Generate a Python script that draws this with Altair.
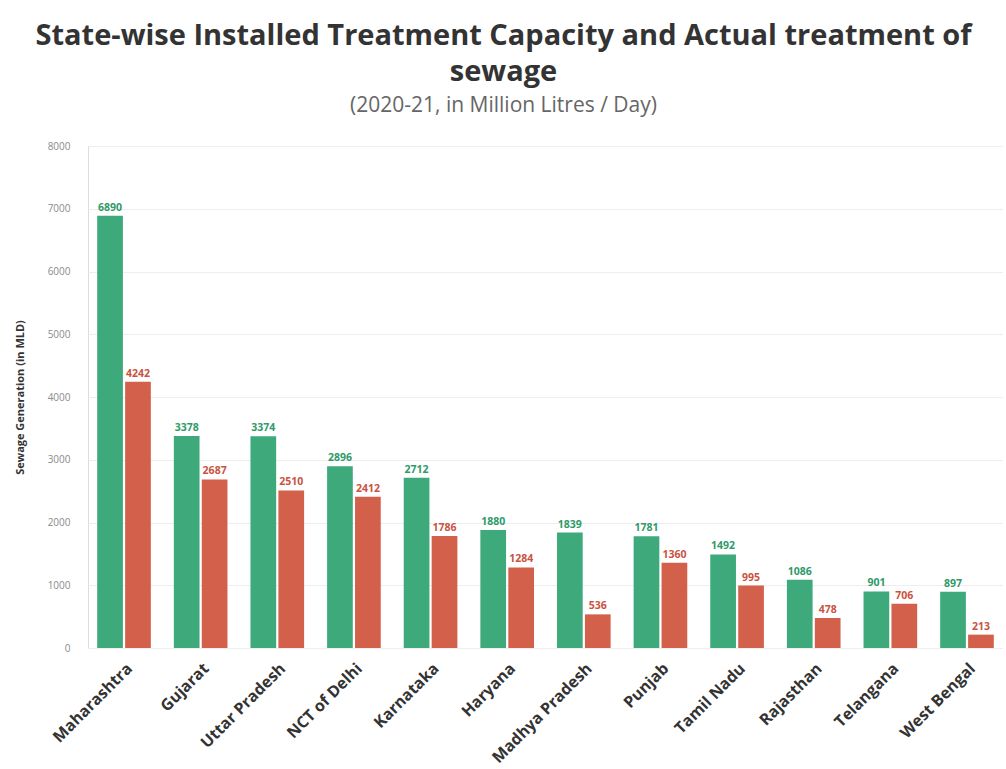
import altair as alt
import pandas as pd

states = ["Maharashtra", "Gujarat", "Uttar Pradesh", "NCT of Delhi", "Karnataka", "Haryana",
          "Madhya Pradesh", "Punjab", "Tamil Nadu", "Rajasthan", "Telangana", "West Bengal"]
installed = [6890, 3378, 3374, 2896, 2712, 1880, 1839, 1781, 1492, 1086, 901, 897]
actual = [4242, 2687, 2510, 2412, 1786, 1284, 536, 1360, 995, 478, 706, 213]
series = ["Installed Capacity", "Actual Treatment"]
bar_colors = ["#3eaa7c", "#d3604b"]
text_colors = ["#2f9a6a", "#c9533f"]
y_ticks = [0, 1000, 2000, 3000, 4000, 5000, 6000, 7000, 8000]

rows = []
for i, s in enumerate(states):
    rows.append({"State": s, "Series": series[0], "Value": installed[i]})
    rows.append({"State": s, "Series": series[1], "Value": actual[i]})
df = pd.DataFrame(rows)

x = alt.X("State:N", sort=states, title=None,
          scale=alt.Scale(paddingInner=0.3, paddingOuter=0.12),
          axis=alt.Axis(labelAngle=-45, labelFont="Open Sans", labelFontSize=16,
                        labelFontWeight="bold", labelColor="#333333", ticks=False,
                        domain=False, labelPadding=12, grid=False))
xoff = alt.XOffset("Series:N", sort=series, scale=alt.Scale(paddingInner=0.08))
y = alt.Y("Value:Q", title="Sewage Generation (in MLD)",
          scale=alt.Scale(domain=[0, 8000], nice=False),
          axis=alt.Axis(values=y_ticks, format="d", labelFont="Open Sans", labelFontSize=10,
                        labelColor="#8a8a8a", titleFont="Open Sans", titleFontSize=11,
                        titleFontWeight="bold", titleColor="#333333", titlePadding=22,
                        domain=False, ticks=False, labelPadding=18,
                        gridColor="#eeeeee", gridWidth=1))
color = alt.Color("Series:N", sort=series,
                  scale=alt.Scale(domain=series, range=bar_colors), legend=None)
tcolor = alt.Color("Series:N", sort=series,
                   scale=alt.Scale(domain=series, range=text_colors), legend=None)

base = alt.Chart(df)
bars = base.mark_bar().encode(x=x, xOffset=xoff, y=y, color=color)
labels = base.mark_text(dy=-8, font="Open Sans", fontSize=10.5, fontWeight="bold").encode(
    x=x, xOffset=xoff, y=y, text=alt.Text("Value:Q"), color=tcolor)

chart = alt.layer(bars, labels).resolve_scale(color="independent").properties(
    width=915, height=502,
    title=alt.TitleParams(
        text=["State-wise Installed Treatment Capacity and Actual treatment of", "sewage"],
        subtitle="(2020-21, in Million Litres / Day)",
        font="Open Sans", fontSize=29, fontWeight="bold", color="#333333",
        lineHeight=36, subtitleFont="Open Sans", subtitleFontSize=21,
        subtitleColor="#666666", subtitlePadding=8, anchor="middle", offset=25, dx=-42),
    autosize=alt.AutoSizeParams(type="none"),
    padding={"left": 88, "top": 146, "right": 0, "bottom": 121},
).configure_view(stroke=None).configure(background="white")

chart.save("out.html", embed_options={"renderer": "svg", "actions": False})
